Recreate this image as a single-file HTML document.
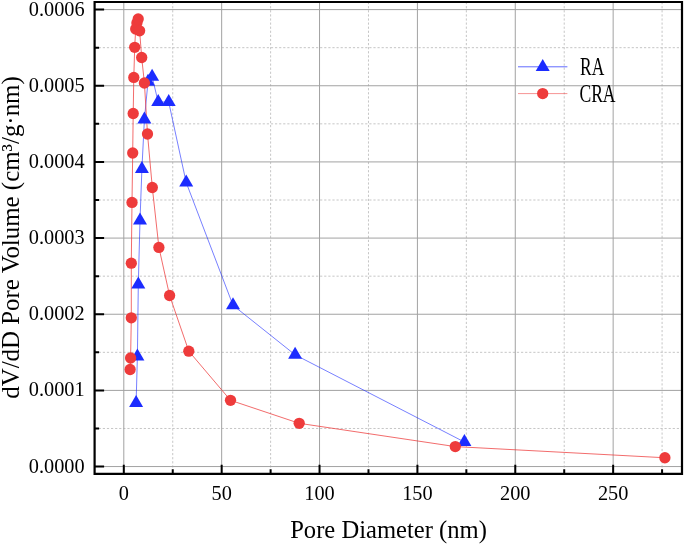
<!DOCTYPE html><html><head><meta charset="utf-8"><style>html,body{margin:0;padding:0;background:#fff;}svg{display:block;will-change:transform;}text{font-family:"Liberation Serif",serif;}</style></head><body>
<svg width="685" height="545" viewBox="0 0 685 545">
<rect x="0" y="0" width="685" height="545" fill="#fff"/>
<g stroke="#c6c6c6" stroke-width="1" stroke-dasharray="2.2,1.9"><line x1="172.74" y1="2.0" x2="172.74" y2="473.8" /><line x1="270.61" y1="2.0" x2="270.61" y2="473.8" /><line x1="368.48" y1="2.0" x2="368.48" y2="473.8" /><line x1="466.35" y1="2.0" x2="466.35" y2="473.8" /><line x1="564.22" y1="2.0" x2="564.22" y2="473.8" /><line x1="662.08" y1="2.0" x2="662.08" y2="473.8" /><line x1="94.6" y1="428.48" x2="682.0" y2="428.48" /><line x1="94.6" y1="352.32" x2="682.0" y2="352.32" /><line x1="94.6" y1="276.16" x2="682.0" y2="276.16" /><line x1="94.6" y1="200.00" x2="682.0" y2="200.00" /><line x1="94.6" y1="123.84" x2="682.0" y2="123.84" /><line x1="94.6" y1="47.68" x2="682.0" y2="47.68" /></g>
<g stroke="#a2a2a2" stroke-width="1"><line x1="123.80" y1="2.0" x2="123.80" y2="473.8" /><line x1="221.67" y1="2.0" x2="221.67" y2="473.8" /><line x1="319.54" y1="2.0" x2="319.54" y2="473.8" /><line x1="417.41" y1="2.0" x2="417.41" y2="473.8" /><line x1="515.28" y1="2.0" x2="515.28" y2="473.8" /><line x1="613.15" y1="2.0" x2="613.15" y2="473.8" /><line x1="94.6" y1="466.56" x2="682.0" y2="466.56" /><line x1="94.6" y1="390.40" x2="682.0" y2="390.40" /><line x1="94.6" y1="314.24" x2="682.0" y2="314.24" /><line x1="94.6" y1="238.08" x2="682.0" y2="238.08" /><line x1="94.6" y1="161.92" x2="682.0" y2="161.92" /><line x1="94.6" y1="85.76" x2="682.0" y2="85.76" /><line x1="94.6" y1="9.60" x2="682.0" y2="9.60" /></g>
<polyline fill="none" stroke="#1c2cff" stroke-width="0.75" stroke-opacity="0.8" points="136.10,403.00 137.40,356.50 138.30,284.50 140.00,220.50 141.90,169.00 144.40,119.60 148.00,81.70 152.10,76.70 158.20,102.00 168.70,102.00 186.20,182.50 233.00,305.30 295.10,354.80 464.40,442.00"/>
<polyline fill="none" stroke="#ee3b3b" stroke-width="0.75" stroke-opacity="1" points="130.10,369.50 130.60,358.00 131.30,317.80 131.30,263.20 132.00,202.40 132.70,153.00 133.20,113.50 133.80,77.40 134.70,47.30 135.70,29.00 136.90,23.00 138.20,18.90 139.60,30.80 141.70,57.50 144.40,83.00 147.50,134.00 152.30,187.50 158.90,247.40 169.60,295.50 188.80,351.20 230.50,400.30 299.20,423.30 455.30,446.60 664.90,457.75"/>
<g fill="#1c2cff"><path d="M136.10,395.00 L143.10,407.00 L129.10,407.00 Z"/><path d="M137.40,348.50 L144.40,360.50 L130.40,360.50 Z"/><path d="M138.30,276.50 L145.30,288.50 L131.30,288.50 Z"/><path d="M140.00,212.50 L147.00,224.50 L133.00,224.50 Z"/><path d="M141.90,161.00 L148.90,173.00 L134.90,173.00 Z"/><path d="M144.40,111.60 L151.40,123.60 L137.40,123.60 Z"/><path d="M148.00,73.70 L155.00,85.70 L141.00,85.70 Z"/><path d="M152.10,68.70 L159.10,80.70 L145.10,80.70 Z"/><path d="M158.20,94.00 L165.20,106.00 L151.20,106.00 Z"/><path d="M168.70,94.00 L175.70,106.00 L161.70,106.00 Z"/><path d="M186.20,174.50 L193.20,186.50 L179.20,186.50 Z"/><path d="M233.00,297.30 L240.00,309.30 L226.00,309.30 Z"/><path d="M295.10,346.80 L302.10,358.80 L288.10,358.80 Z"/><path d="M464.40,434.00 L471.40,446.00 L457.40,446.00 Z"/></g>
<g fill="#ee3b3b"><circle cx="130.10" cy="369.50" r="5.65"/><circle cx="130.60" cy="358.00" r="5.65"/><circle cx="131.30" cy="317.80" r="5.65"/><circle cx="131.30" cy="263.20" r="5.65"/><circle cx="132.00" cy="202.40" r="5.65"/><circle cx="132.70" cy="153.00" r="5.65"/><circle cx="133.20" cy="113.50" r="5.65"/><circle cx="133.80" cy="77.40" r="5.65"/><circle cx="134.70" cy="47.30" r="5.65"/><circle cx="135.70" cy="29.00" r="5.65"/><circle cx="136.90" cy="23.00" r="5.65"/><circle cx="138.20" cy="18.90" r="5.65"/><circle cx="139.60" cy="30.80" r="5.65"/><circle cx="141.70" cy="57.50" r="5.65"/><circle cx="144.40" cy="83.00" r="5.65"/><circle cx="147.50" cy="134.00" r="5.65"/><circle cx="152.30" cy="187.50" r="5.65"/><circle cx="158.90" cy="247.40" r="5.65"/><circle cx="169.60" cy="295.50" r="5.65"/><circle cx="188.80" cy="351.20" r="5.65"/><circle cx="230.50" cy="400.30" r="5.65"/><circle cx="299.20" cy="423.30" r="5.65"/><circle cx="455.30" cy="446.60" r="5.65"/><circle cx="664.90" cy="457.75" r="5.65"/></g>
<path d="M94.6,2.0 H682.0 V473.8 H94.6 Z" fill="none" stroke="#000" stroke-width="2.2"/>
<path d="M123.80,473.8 V464.8 M221.67,473.8 V464.8 M319.54,473.8 V464.8 M417.41,473.8 V464.8 M515.28,473.8 V464.8 M613.15,473.8 V464.8 M172.74,473.8 V469.3 M270.61,473.8 V469.3 M368.48,473.8 V469.3 M466.35,473.8 V469.3 M564.22,473.8 V469.3 M662.08,473.8 V469.3 M94.6,466.56 H104.1 M94.6,390.40 H104.1 M94.6,314.24 H104.1 M94.6,238.08 H104.1 M94.6,161.92 H104.1 M94.6,85.76 H104.1 M94.6,9.60 H104.1 M94.6,428.48 H99.1 M94.6,352.32 H99.1 M94.6,276.16 H99.1 M94.6,200.00 H99.1 M94.6,123.84 H99.1 M94.6,47.68 H99.1" stroke="#000" stroke-width="2" fill="none"/>
<g font-size="20.3" fill="#000"><text x="84.6" y="472.56" text-anchor="end">0.0000</text><text x="84.6" y="396.40" text-anchor="end">0.0001</text><text x="84.6" y="320.24" text-anchor="end">0.0002</text><text x="84.6" y="244.08" text-anchor="end">0.0003</text><text x="84.6" y="167.92" text-anchor="end">0.0004</text><text x="84.6" y="91.76" text-anchor="end">0.0005</text><text x="84.6" y="15.60" text-anchor="end">0.0006</text><text x="123.80" y="500" text-anchor="middle">0</text><text x="221.67" y="500" text-anchor="middle">50</text><text x="319.54" y="500" text-anchor="middle">100</text><text x="417.41" y="500" text-anchor="middle">150</text><text x="515.28" y="500" text-anchor="middle">200</text><text x="613.15" y="500" text-anchor="middle">250</text></g>
<text x="388.5" y="537.7" text-anchor="middle" font-size="24.6" fill="#000">Pore Diameter (nm)</text>
<text transform="translate(18.5,237.5) rotate(-90)" x="0" y="0" text-anchor="middle" font-size="24.9" fill="#000">dV/dD Pore Volume (cm³/g·nm)</text>
<line x1="518" y1="66.8" x2="567.4" y2="66.8" stroke="#1c2cff" stroke-width="1" stroke-opacity="0.7"/>
<g fill="#1c2cff"><path d="M542.70,59.00 L549.70,71.00 L535.70,71.00 Z"/></g>
<line x1="518" y1="93.6" x2="567.4" y2="93.6" stroke="#ee3b3b" stroke-width="1" stroke-opacity="0.55"/>
<circle cx="542.7" cy="93.6" r="5.65" fill="#ee3b3b"/>
<text transform="translate(580,75.3) scale(0.685,1)" font-size="25.5" fill="#000">RA</text>
<text transform="translate(579.4,102.1) scale(0.69,1)" font-size="25.5" fill="#000">CRA</text>
</svg></body></html>
